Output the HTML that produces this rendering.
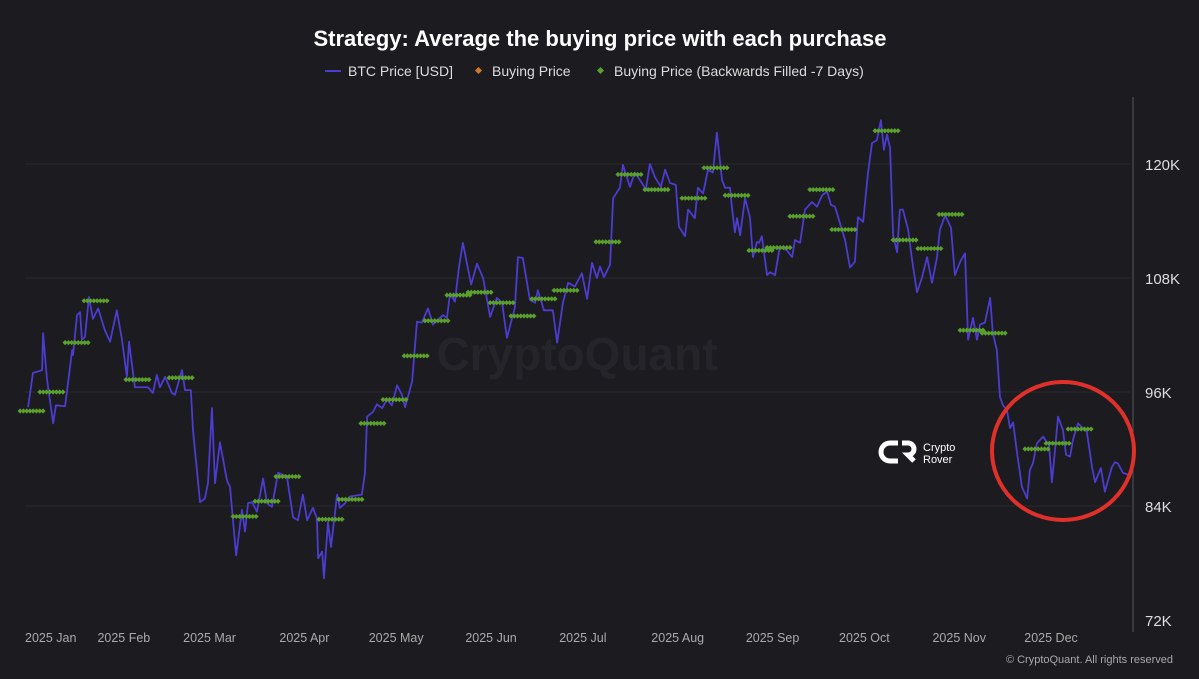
<!DOCTYPE html>
<html><head><meta charset="utf-8"><style>
body{margin:0;background:#1c1b20;width:1199px;height:679px;overflow:hidden;font-family:"Liberation Sans",sans-serif}
svg{display:block}
</style></head><body>
<svg width="1199" height="679">
<rect width="1199" height="679" fill="#1c1b20"/>
<text x="600" y="46" text-anchor="middle" fill="#fff" font-size="22" font-weight="bold">Strategy: Average the buying price with each purchase</text>
<g font-size="14" fill="#ddd">
<g><line x1="325" y1="71" x2="341" y2="71" stroke="#4c3ccf" stroke-width="2"/><text x="348" y="76">BTC Price [USD]</text></g>
<g><rect x="476" y="68" width="5" height="5" transform="rotate(45 478.5 70.5)" fill="#d0782a"/><text x="492" y="76">Buying Price</text></g>
<g><rect x="598" y="68" width="5" height="5" transform="rotate(45 600.5 70.5)" fill="#5aa02c"/><text x="614" y="76">Buying Price (Backwards Filled -7 Days)</text></g>
</g>
<text x="577" y="370" text-anchor="middle" font-size="46" font-weight="bold" fill="#25242a">CryptoQuant</text>
<g id="grid"></g><g id="axes"></g><g id="series"></g><g id="buys"></g>
<g>
<path d="M898 443 h-8 a9 9 0 0 0 0 18 h8 M902 443 h6 a6 6 0 0 1 0 12 l6 6" stroke="#fff" stroke-width="5" fill="none"/>
<text x="923" y="451" fill="#fff" font-size="11">Crypto</text><text x="923" y="463" fill="#fff" font-size="11">Rover</text>
</g>
<ellipse cx="1063" cy="451" rx="71" ry="69" fill="none" stroke="#e0302a" stroke-width="4"/>
<text x="1173" y="663" text-anchor="end" fill="#aaa" font-size="11">© CryptoQuant. All rights reserved</text>
</svg>
<script>
const priceDays=[1,2.6,5.6,5.9,7.2,9.2,10.1,13.1,15.4,15.7,17,18,18.6,19.6,20.9,22.2,23.9,26.1,27.8,30,31.7,33.3,34,35.9,40.2,41.8,43.1,44.1,45.8,48,49,51.3,52.3,54.2,54.9,57.2,58.8,59.8,61.1,62.1,63.7,66,67,69,70.9,71.9,72.9,74.2,75.8,77.8,79.1,80.7,82.7,85.6,87.6,89.2,90.8,92.2,94.1,95.4,95.8,97.1,97.7,99,100,102,102.9,104.6,106.2,110.1,111.1,111.8,113.7,115,116.7,118.3,119.9,121.6,123.2,124.2,126.5,128.1,129.7,131.7,133.3,136.6,137.9,138.9,140.5,141.8,143.1,145.8,147.7,149.7,152,154.2,155.9,157.5,160.1,161.1,162.7,165,166.7,167.6,169.6,172.5,173.9,175.8,177.5,179.7,182,183.7,185.3,186.9,187.9,189.2,191.2,192.2,194.4,195.4,197.7,199.3,201.6,202.9,204.2,205.9,207.8,209.2,210.8,212.7,213.7,215.7,216.7,218.9,219.9,221.6,223.2,224.8,226.1,227.8,228.8,230.4,231,232,232.7,233.7,235.3,236.9,237.9,239.2,239.9,240.8,242.5,243.5,245.1,246.7,249,250.7,251.6,253.3,254.9,257.2,258.8,260.5,262.1,263.4,264.7,266.3,268,269.6,271.2,272.2,273.9,275.5,276.8,278.4,279.7,280.7,281.7,282.7,283.7,285,285.9,286.9,288.6,289.9,291.5,293.1,294.8,296.4,298,299,300.7,302.6,303.9,305.6,307.2,308.2,309.8,311.1,312.1,313.7,315.4,316.3,317.6,318.6,319.6,320.9,321.9,322.9,324.2,325.8,327.5,328.4,329.4,330.7,332.7,334,334.6,335.6,336.6,337.6,339.2,340.2,341.5,342.5,344.1,345.4,347,348.7,349.7,351.6,352.9,355.2,356.2,357.1,358.8,360.4];
const prices=[94.4,98.0,98.3,102.2,97.3,92.7,94.6,94.5,100.4,99.9,104.1,104.4,101.5,101.8,106.0,103.7,104.8,102.5,101.3,104.6,101.5,97.6,101.3,96.5,96.5,95.9,97.8,96.5,97.6,95.9,95.7,98.3,96.2,96.2,92.0,84.4,84.8,86.4,94.3,86.4,90.7,86.7,86.0,78.8,83.6,81.3,84.3,84.4,83.4,86.9,84.3,83.9,87.5,87.1,82.8,82.5,85.2,82.5,83.8,82.7,78.5,79.2,76.4,82.3,79.7,85.2,83.8,84.3,85.0,85.2,87.5,93.4,93.9,94.7,94.3,95.2,94.6,96.7,95.7,94.4,97.1,103.4,103.3,104.8,103.1,104.1,103.8,106.4,105.5,109.1,111.7,107.3,109.5,108.0,103.9,105.9,105.4,101.7,104.9,110.2,110.1,105.7,105.4,106.7,104.6,104.6,101.2,105.4,107.5,107.1,108.5,105.8,109.6,108.0,109.2,108.1,109.4,116.4,117.5,119.9,117.6,119.1,118.0,117.3,120.0,118.6,117.6,119.4,118.0,117.8,113.4,112.4,115.2,114.3,117.5,116.9,119.4,119.1,123.3,118.3,117.5,117.5,115.5,112.8,114.3,112.5,116.4,114.4,110.2,111.8,111.7,112.4,108.3,108.6,108.3,111.3,110.9,110.2,112.0,111.7,115.2,116.0,115.5,116.7,117.1,115.7,115.5,113.8,112.0,109.1,109.7,114.4,113.9,119.1,122.2,122.5,124.6,121.5,123.1,121.7,112.5,110.7,115.2,115.2,113.1,109.9,106.5,108.0,110.2,107.5,110.1,113.1,114.6,113.3,108.3,109.7,110.6,101.5,103.8,101.5,103.1,103.3,105.9,102.2,100.4,95.5,94.6,94.1,92.2,92.8,89.6,86.0,84.8,87.8,88.5,90.6,91.3,90.7,90.6,86.5,89.9,93.4,92.0,89.4,89.2,91.0,92.7,92.3,91.8,88.1,86.5,88.0,85.5,88.1,88.6,88.5,87.5,87.3,87.8];
const buyDays=[5.9,12.4,20.6,26.8,40.5,54.6,75.5,82.7,89.5,103.6,110.1,117.3,124.5,131.4,138.2,145.4,152.3,159.5,166.3,173.2,180.4,194.1,201.3,210.1,222.2,229.4,236.3,244.1,250,257.5,264,271.2,285.3,291.2,299.3,306.2,313.1,320.3,334.3,341.2,348.4];
const buyPrices=[94.0,96.0,101.2,105.6,97.3,97.5,82.9,84.5,87.1,82.6,84.7,92.7,95.2,99.8,103.5,106.2,106.5,105.4,104.0,105.8,106.7,111.8,118.9,117.3,116.4,119.6,116.7,110.9,111.2,114.5,117.3,113.1,123.5,112.0,111.1,114.7,102.5,102.2,90.0,90.6,92.1];
const yTicks=[72,84,96,108,120];
const monthLabels=["2025 Jan","2025 Feb","2025 Mar","2025 Apr","2025 May","2025 Jun","2025 Jul","2025 Aug","2025 Sep","2025 Oct","2025 Nov","2025 Dec"];
const monthStarts=[0,31,59,90,120,151,181,212,243,273,304,334];
const NS="http://www.w3.org/2000/svg";
const X=d=>25+d*3.06, Y=v=>620-(v-72)*9.5;
function mk(t,a,p){const e=document.createElementNS(NS,t);for(const k in a)e.setAttribute(k,a[k]);p.appendChild(e);return e;}
const grid=document.getElementById('grid'),axes=document.getElementById('axes');
yTicks.forEach(v=>{
 if(v>72){const g=mk('line',{x1:25,x2:1130,y1:Y(v),y2:Y(v),stroke:'#2a2930','stroke-width':1},grid);
 
 }
 const t=mk('text',{x:1145,y:Y(v)+6,fill:'#ddd','font-size':15},axes);t.textContent=v+'K';
 
 
});
const ax=mk('line',{x1:1133,x2:1133,y1:97,y2:632,stroke:'#55545a','stroke-width':1},axes);


monthLabels.forEach((m,i)=>{
 const first=i===0;
 const t=mk('text',{x:first?25:X(monthStarts[i])+4,y:642,fill:'#aaa','font-size':12.5,'text-anchor':first?'start':'middle'},axes);t.textContent=m;
 
 });
const pl=mk('polyline',{points:priceDays.map((d,i)=>X(d)+','+Y(prices[i])).join(' '),fill:'none',stroke:'#4c3ccf','stroke-width':1.8,'stroke-linejoin':'round'},document.getElementById('series'));


const bg=document.getElementById('buys');
buyDays.forEach((d,i)=>{
 const g=mk('g',{},bg);
 
 
 const y=Y(buyPrices[i]);
 for(let k=0;k<=7;k++){const x=X(d-7.5+k*7.5/7);
  mk('path',{d:`M${x-2.6} ${y} L${x} ${y-2.6} L${x+2.6} ${y} L${x} ${y+2.6}Z`,fill:'#5aa02c'},g);}
});
</script>
</body></html>
